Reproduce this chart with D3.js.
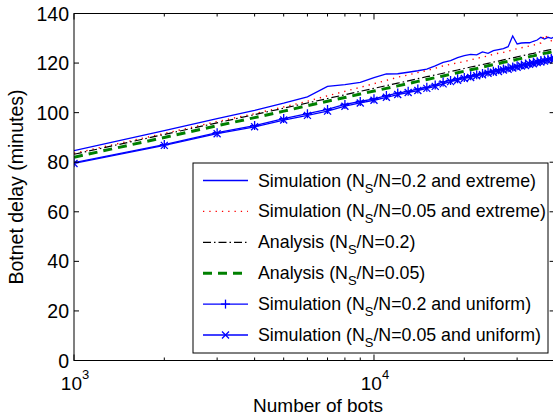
<!DOCTYPE html>
<html>
<head>
<meta charset="utf-8">
<script src="https://cdn.jsdelivr.net/npm/d3@7"></script>
<style>
  body { margin: 0; background: #fff; }
  svg { display: block; font-family: "Liberation Sans", Arial, sans-serif; }
</style>
</head>
<body>
<div id="content"></div>
<script>
//-- data (number of bots, delay in minutes)
const bots = [1000, 2000, 3000, 4000, 5000, 6000, 7000, 8000, 9000, 10000,
  11000, 12000, 13000, 14000, 15000, 16000, 17000, 18000, 19000, 20000,
  21000, 22000, 23000, 24000, 25000, 26000, 27000, 28000, 29000, 30000,
  31000, 32000, 33000, 34000, 35000, 36000, 37000, 38000, 39000, 40000];
const simExtreme02 = [84.7, 92.7, 97.6, 100.9, 103.8, 106.4, 110.6, 111.3, 112.2, 114.1,
  115.6, 115.7, 116.3, 116.9, 117.6, 118.9, 120.3, 121.0, 122.2, 123.0,
  123.5, 123.3, 124.5, 123.9, 125.0, 125.4, 125.8, 126.6, 130.9, 127.7,
  128.1, 128.2, 128.2, 128.8, 129.3, 130.4, 129.7, 130.4, 130.0, 130.6];
const simExtreme005 = [83.6, 91.6, 96.4, 99.6, 102.3, 104.6, 106.8, 108.6, 110.2, 111.7,
  113.0, 114.3, 115.2, 116.2, 117.0, 117.9, 118.9, 119.5, 120.1, 120.6,
  121.3, 121.9, 122.4, 122.9, 123.6, 124.0, 124.3, 124.8, 125.3, 125.8,
  126.2, 126.5, 126.9, 127.2, 127.7, 128.1, 131.5, 129.9, 129.0, 129.4];
const analysis02 = [83.2, 91.2, 95.9, 99.2, 101.8, 103.9, 105.7, 107.2, 108.6, 109.8,
  110.9, 111.9, 112.8, 113.7, 114.5, 115.2, 115.9, 116.6, 117.2, 117.8,
  118.4, 118.9, 119.4, 119.9, 120.4, 120.8, 121.3, 121.7, 122.1, 122.5,
  122.9, 123.2, 123.6, 123.9, 124.3, 124.6, 124.9, 125.2, 125.5, 125.8];
const analysis005 = [82.0, 90.0, 94.7, 98.0, 100.6, 102.8, 104.6, 106.1, 107.5, 108.7,
  109.8, 110.8, 111.7, 112.6, 113.4, 114.1, 114.8, 115.5, 116.1, 116.7,
  117.3, 117.8, 118.4, 118.9, 119.4, 119.8, 120.3, 120.7, 121.1, 121.5,
  121.9, 122.2, 122.6, 122.9, 123.3, 123.6, 123.9, 124.2, 124.5, 124.8];
const simUniform02 = [79.8, 87.1, 91.9, 94.8, 97.6, 99.6, 101.3, 103.3, 104.5, 105.6,
  106.9, 107.9, 108.6, 109.5, 110.2, 111.2, 112.4, 113.0, 113.7, 114.2,
  114.9, 115.3, 115.8, 116.4, 116.7, 117.3, 117.6, 118.1, 118.4, 118.9,
  119.2, 119.6, 119.9, 120.3, 120.5, 121.0, 121.2, 121.6, 121.8, 122.2];
const simUniform005 = [79.5, 86.8, 91.5, 94.3, 97.0, 98.9, 100.6, 102.6, 103.9, 105.0,
  106.2, 107.3, 108.1, 108.9, 109.8, 110.6, 111.6, 112.5, 113.1, 113.8,
  114.2, 114.9, 115.3, 115.9, 116.3, 116.6, 117.2, 117.5, 118.0, 118.3,
  118.8, 119.0, 119.5, 119.7, 120.2, 120.4, 120.8, 121.1, 121.4, 121.7];

const yTicks = [0, 20, 40, 60, 80, 100, 120, 140];
const xMajor = [1000, 10000];
const xMinor = [2000, 3000, 4000, 5000, 6000, 7000, 8000, 9000, 20000, 30000];

//-- series styles
const series = [
  { label: "Simulation (N", rest: "/N=0.2 and extreme)", values: simExtreme02,
    color: "#0000ff", width: 1.3, dash: null, marker: null },
  { label: "Simulation (N", rest: "/N=0.05 and extreme)", values: simExtreme005,
    color: "#ff0000", width: 1.4, dash: "1.3,5", marker: null },
  { label: "Analysis (N", rest: "/N=0.2)", values: analysis02,
    color: "#000000", width: 1.2, dash: "8,3,1.5,3", marker: null },
  { label: "Analysis (N", rest: "/N=0.05)", values: analysis005,
    color: "#008000", width: 3, dash: "9,6", marker: null },
  { label: "Simulation (N", rest: "/N=0.2 and uniform)", values: simUniform02,
    color: "#0000ff", width: 1.3, dash: null, marker: "plus" },
  { label: "Simulation (N", rest: "/N=0.05 and uniform)", values: simUniform005,
    color: "#0000ff", width: 1.3, dash: null, marker: "cross" },
];

//-- dimensions
const width = 553;
const height = 417;
const plot = { left: 74, top: 13.5, right: 554.6, bottom: 360.5 };

const svg = d3.select("#content").append("svg")
  .attr("width", width)
  .attr("height", height);

const x = d3.scaleLog().domain([1000, 40000]).range([plot.left, plot.right]);
const y = d3.scaleLinear().domain([0, 140]).range([plot.bottom, plot.top]);

//-- markers
function drawMarker(g, kind, cx, cy, color) {
  const p = kind === "plus" ? 4.5 : 3.5;
  const segs = kind === "plus"
    ? [[-p, 0, p, 0], [0, -p, 0, p]]
    : [[-p, -p, p, p], [-p, p, p, -p]];
  segs.forEach((s) => {
    g.append("line")
      .attr("x1", cx + s[0]).attr("y1", cy + s[1])
      .attr("x2", cx + s[2]).attr("y2", cy + s[3])
      .attr("stroke", color).attr("stroke-width", 1.3);
  });
}

//-- lines
svg.append("clipPath").attr("id", "clip")
  .append("rect")
  .attr("x", plot.left).attr("y", plot.top)
  .attr("width", plot.right - plot.left).attr("height", plot.bottom - plot.top);

const lines = svg.append("g").attr("clip-path", "url(#clip)");
series.forEach((s) => {
  const line = d3.line()
    .x((d, i) => x(bots[i]))
    .y((d) => y(d));
  lines.append("path")
    .datum(s.values)
    .attr("d", line)
    .attr("fill", "none")
    .attr("stroke", s.color)
    .attr("stroke-width", s.width)
    .attr("stroke-dasharray", s.dash);
  if (s.marker) {
    const mg = lines.append("g");
    s.values.forEach((v, i) => drawMarker(mg, s.marker, x(bots[i]), y(v), s.color));
  }
});

//-- axes box and ticks (inward, matlab style)
const axes = svg.append("g").attr("stroke", "#000").attr("stroke-width", 1);
axes.append("rect")
  .attr("x", plot.left).attr("y", plot.top)
  .attr("width", plot.right - plot.left).attr("height", plot.bottom - plot.top)
  .attr("fill", "none");

yTicks.forEach((t) => {
  axes.append("line").attr("x1", plot.left).attr("x2", plot.left + 5)
    .attr("y1", y(t)).attr("y2", y(t));
  axes.append("line").attr("x1", plot.right - 5).attr("x2", plot.right)
    .attr("y1", y(t)).attr("y2", y(t));
});
const xTickMarks = xMajor.map((v) => [v, 6]).concat(xMinor.map((v) => [v, 3]));
xTickMarks.forEach(([v, len]) => {
  axes.append("line").attr("x1", x(v)).attr("x2", x(v))
    .attr("y1", plot.bottom).attr("y2", plot.bottom - len);
  axes.append("line").attr("x1", x(v)).attr("x2", x(v))
    .attr("y1", plot.top).attr("y2", plot.top + len);
});

//-- tick labels
svg.append("g")
  .selectAll("text")
  .data(yTicks)
  .join("text")
  .attr("x", plot.left - 5)
  .attr("y", (d) => y(d) + 7)
  .attr("text-anchor", "end")
  .attr("font-size", 19.5)
  .text((d) => d);

xMajor.forEach((v) => {
  const t = svg.append("text")
    .attr("x", x(v) + 1)
    .attr("y", 390)
    .attr("text-anchor", "middle")
    .attr("font-size", 19);
  t.append("tspan").text("10");
  t.append("tspan").attr("dy", -11).attr("font-size", 13).text(Math.round(Math.log10(v)));
});

//-- axis labels
svg.append("text")
  .attr("x", 318).attr("y", 412)
  .attr("text-anchor", "middle")
  .attr("font-size", 19)
  .text("Number of bots");

svg.append("text")
  .attr("transform", "translate(23,187) rotate(-90)")
  .attr("text-anchor", "middle")
  .attr("font-size", 19.5)
  .text("Botnet delay (minutes)");

//-- legend
const legend = { left: 193, top: 163, right: 548, bottom: 353, row0: 180.5, step: 30.9 };
const lg = svg.append("g");
lg.append("rect")
  .attr("x", legend.left).attr("y", legend.top)
  .attr("width", legend.right - legend.left).attr("height", legend.bottom - legend.top)
  .attr("fill", "#fff").attr("stroke", "#000").attr("stroke-width", 1);

series.forEach((s, i) => {
  const cy = legend.row0 + i * legend.step;
  lg.append("line")
    .attr("x1", 203).attr("x2", 248).attr("y1", cy).attr("y2", cy)
    .attr("stroke", s.color).attr("stroke-width", s.width)
    .attr("stroke-dasharray", s.dash);
  if (s.marker) drawMarker(lg, s.marker, 225.5, cy, s.color);
  const t = lg.append("text")
    .attr("x", 258).attr("y", cy + 6)
    .attr("font-size", 17.8);
  t.append("tspan").text(s.label);
  t.append("tspan").attr("dy", 6).attr("font-size", 13).text("S");
  t.append("tspan").attr("dy", -6).text(s.rest);
});
</script>
</body>
</html>
